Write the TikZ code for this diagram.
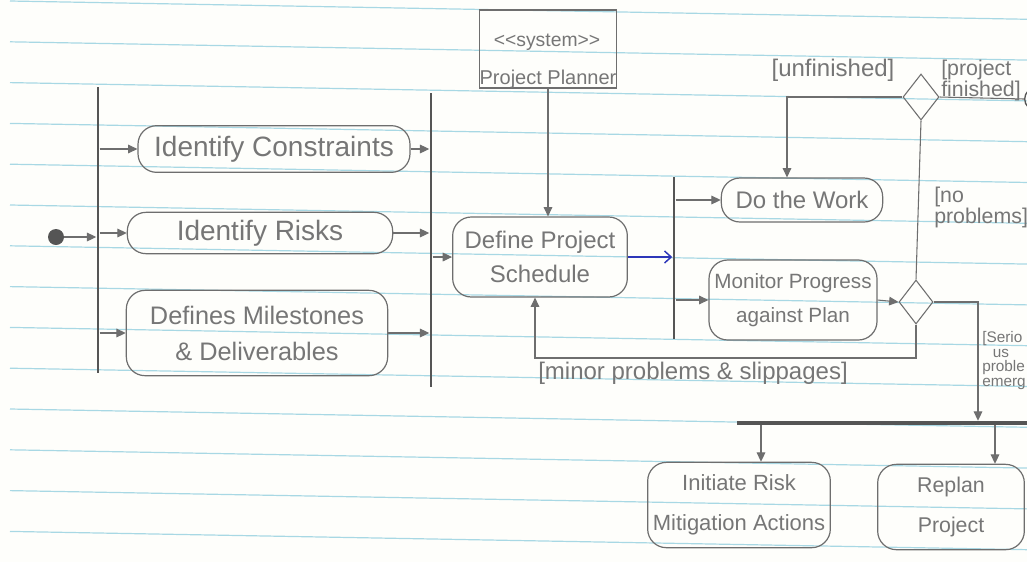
\documentclass[tikz,border=0pt]{standalone}
\usepackage{fontspec}
\setmainfont{Liberation Sans}
\usetikzlibrary{arrows.meta,shapes.geometric}
\definecolor{paper}{RGB}{254,254,251}
\definecolor{rulecol}{RGB}{168,216,228}
\definecolor{pencil}{RGB}{110,110,110}
\definecolor{lead}{RGB}{85,85,85}
\definecolor{penblue}{RGB}{45,55,185}
\definecolor{ink}{RGB}{118,118,118}
\begin{document}
\begin{tikzpicture}[x=0.75pt,y=-0.75pt,
  act/.style={draw=pencil, line width=0.9pt, rounded corners=14pt, text=ink, align=center, inner sep=0pt},
  sysbox/.style={draw=pencil, line width=0.9pt, inner sep=0pt},
  barv/.style={fill=lead, draw=none, inner sep=0pt},
  arr/.style={draw=pencil, line width=0.8pt, -{Triangle[length=7pt,width=6.5pt]}},
  flow/.style={draw=pencil, line width=0.8pt},
  dec/.style={diamond, draw=pencil, line width=0.8pt, inner sep=0pt},
  lbl/.style={text=ink, inner sep=0pt, align=left},
  bluearr/.style={draw=penblue, line width=1.1pt, -{Straight Barb[length=5pt,width=9pt]}},
]
\useasboundingbox (0,0) rectangle (1027,562);
\fill[paper] (0,0) rectangle (1027,562);
\clip (0,0) rectangle (1027,562);
% ruled paper
\foreach \k in {0,...,13} {
  \draw[rulecol, line width=0.9pt] (10,{1+40.8*\k}) -- (1040,{1+40.8*\k+18.5});
}
% initial node
\node[circle, fill=lead, minimum size=12pt, inner sep=0pt] (init) at (56,237) {};
% bars
\node[barv, minimum width=2.2pt, minimum height=215pt] (bar1) at (98,230) {};
\node[barv, minimum width=2.2pt, minimum height=220pt] (bar2) at (431,240) {};
\node[barv, minimum width=2.2pt, minimum height=121pt] (bar3) at (674,258) {};
\node[barv, minimum width=225pt, minimum height=3pt] (bar4) at (887,423) {};
% activities
\node[act, minimum width=204pt, minimum height=35pt, font=\fontsize{21}{24}\selectfont] (cons) at (274,149) {Identify Constraints};
\node[act, minimum width=199pt, minimum height=31pt, font=\fontsize{21}{24}\selectfont] (risks) at (260,233) {Identify Risks};
\node[act, minimum width=196pt, minimum height=64pt, font=\fontsize{19}{27}\selectfont] (miles) at (257,333) {Defines Milestones\\\& Deliverables};
\node[act, minimum width=131pt, minimum height=60pt, font=\fontsize{18}{26}\selectfont] (sched) at (540,257) {Define Project\\Schedule};
\node[act, minimum width=121pt, minimum height=33pt, font=\fontsize{18}{22}\selectfont] (work) at (802,200) {Do the Work};
\node[act, minimum width=126pt, minimum height=60pt, font=\fontsize{15.5}{26}\selectfont] (mon) at (793,300) {Monitor Progress\\against Plan};
\node[act, minimum width=137pt, minimum height=64pt, font=\fontsize{16.5}{30}\selectfont] (mit) at (739,505) {Initiate Risk\\Mitigation Actions};
\node[act, minimum width=110pt, minimum height=64pt, font=\fontsize{16}{30}\selectfont] (rep) at (951,507) {Replan\\Project};
% system box
\node[sysbox, minimum width=103pt, minimum height=58.5pt] (sys) at (548,49) {};
\node[lbl, font=\fontsize{14.5}{17}\selectfont] (sysst) at (547,42) {<\kern0pt<system>\kern0pt>};
\node[lbl, font=\fontsize{15}{17}\selectfont] (syspp) at (548,79) {Project Planner};
% decisions
\node[dec, minimum width=27pt, minimum height=34.5pt] (d1) at (921,97) {};
\node[dec, minimum width=25.5pt, minimum height=33pt] (d2) at (916,302) {};
% final node
\node[circle, draw=lead, line width=1pt, minimum size=17pt, inner sep=0pt] (fin) at (1036,99) {};
\node[circle, fill=lead, minimum size=11pt, inner sep=0pt] (finin) at (1036,99) {};
% helper coordinates
\coordinate (wk) at (787,0);
\coordinate (lp) at (0,358);
\coordinate (sc) at (535,0);
\coordinate (sx) at (978,0);
\coordinate (m1) at (761,0);
\coordinate (r1) at (995,0);
% connectors
\draw[arr] (init) -- (init -| bar1.west);
\draw[arr] (bar1.east |- cons) -- (cons.west);
\draw[arr] (bar1.east |- risks) -- (risks.west);
\draw[arr] (bar1.east |- miles) -- (miles.west);
\draw[arr] (cons.east) -- (cons.east -| bar2.west);
\draw[arr] (risks.east) -- (risks.east -| bar2.west);
\draw[arr] (miles.east) -- (miles.east -| bar2.west);
\draw[arr] (bar2.east |- sched.west) -- (sched.west);
\draw[arr] (sys.south) -- (sys.south |- sched.north);
\draw[bluearr] (sched.east) -- (sched.east -| bar3.west);
\draw[arr] (bar3.east |- work) -- (work.west);
\draw[arr] (bar3.east |- mon) -- (mon.west);
\draw[arr] (mon.east) -- (d2.west);
\draw[flow] (d2.north) -- (d1.south);
\draw[arr] (d1.west) -| (wk |- work.north);
\draw[flow] (d1.east) -- (fin.west);
\draw[arr] (d2.south) -- (d2.south |- lp) -| (sc |- sched.south);
\draw[arr] (d2.east) -| (sx |- bar4.north);
\draw[arr] (m1 |- bar4.south) -- (m1 |- mit.north);
\draw[arr] (r1 |- bar4.south) -- (r1 |- rep.north);
% guard labels
\node[lbl, font=\fontsize{18}{20}\selectfont] (lunf) at (833,70) {[unfinished]};
\node[lbl, anchor=north west, font=\fontsize{16}{13.5}\selectfont] (lfin) at (941,60) {[project\\finished]};
\node[lbl, anchor=north west, font=\fontsize{16}{13.5}\selectfont] (lnop) at (934,187) {[no\\problems]};
\node[lbl, font=\fontsize{18}{20}\selectfont] (lmin) at (693,373) {[minor problems \& slippages]};
\node[lbl, anchor=north west, font=\fontsize{11.5}{11}\selectfont] (lser) at (982,331) {[Serio\\\hspace*{8pt}us\\proble\\emerg};
\end{tikzpicture}
\end{document}
